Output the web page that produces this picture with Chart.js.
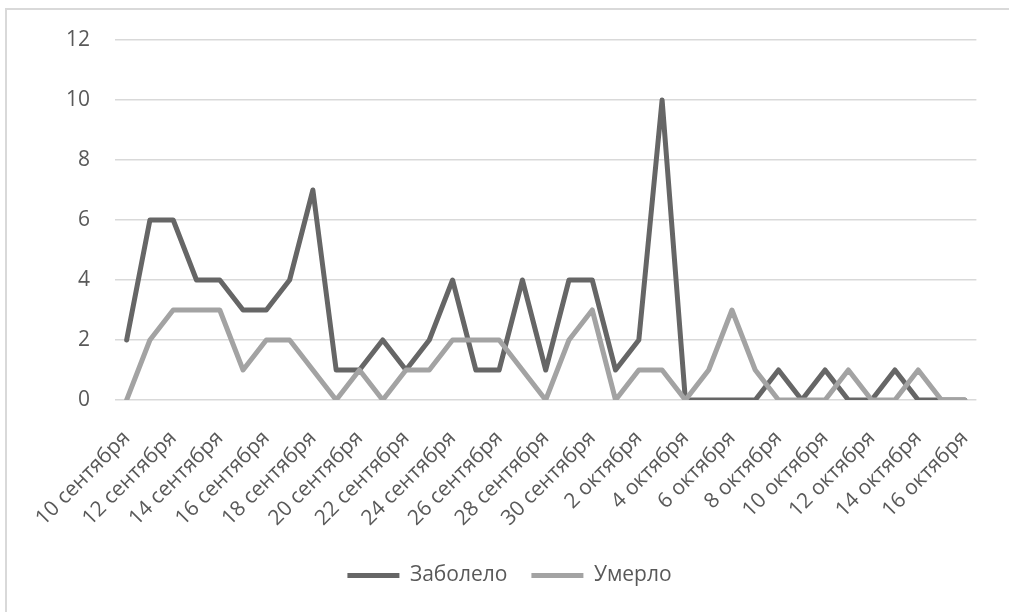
<!DOCTYPE html>
<html>
<head>
<meta charset="utf-8">
<script src="https://cdn.jsdelivr.net/npm/chart.js@4"></script>
<style>
  html, body { margin: 0; padding: 0; background: #ffffff; }
  body { width: 1009px; height: 612px; position: relative; overflow: hidden; }
  #frame { position: absolute; left: 5px; top: 8px; width: 1100px; height: 700px;
           border-top: 2px solid #d9d9d9; border-left: 2px solid #d9d9d9; }
  #wrap { position: absolute; left: 0; top: 0; width: 1009px; height: 612px; }
</style>
</head>
<body>
<div id="frame"></div>
<div id="wrap"><canvas id="c" width="1009" height="612"></canvas></div>
<script>
const days = [
  "10 сентября","11 сентября","12 сентября","13 сентября","14 сентября","15 сентября",
  "16 сентября","17 сентября","18 сентября","19 сентября","20 сентября","21 сентября",
  "22 сентября","23 сентября","24 сентября","25 сентября","26 сентября","27 сентября",
  "28 сентября","29 сентября","30 сентября","1 октября","2 октября","3 октября",
  "4 октября","5 октября","6 октября","7 октября","8 октября","9 октября",
  "10 октября","11 октября","12 октября","13 октября","14 октября","15 октября","16 октября"
];
const zabolelo = [2,6,6,4,4,3,3,4,7,1,1,2,1,2,4,1,1,4,1,4,4,1,2,10,0,0,0,0,1,0,1,0,0,1,0,0,0];
const umerlo   = [0,2,3,3,3,1,2,2,1,0,1,0,1,1,2,2,2,1,0,2,3,0,1,1,0,1,3,1,0,0,0,1,0,0,1,0,0];
const yTicks = [0,2,4,6,8,10,12];
const seriesNames = ["Заболело","Умерло"];

const FONT = "'Open Sans', 'Noto Sans', sans-serif";
const TXT = "#595959";

new Chart(document.getElementById("c"), {
  type: "line",
  data: {
    labels: days,
    datasets: [
      { label: seriesNames[0], data: zabolelo, borderColor: "#666666", backgroundColor: "#666666",
        borderWidth: 5, pointRadius: 0, tension: 0, borderJoinStyle: "round", borderCapStyle: "round", order: 1 },
      { label: seriesNames[1], data: umerlo, borderColor: "#a3a3a3", backgroundColor: "#a3a3a3",
        borderWidth: 5, pointRadius: 0, tension: 0, borderJoinStyle: "round", borderCapStyle: "round", order: 0 }
    ]
  },
  options: {
    responsive: false,
    animation: false,
    events: [],
    layout: { padding: { left: 42, right: 32, top: 40, bottom: 16 } },
    plugins: {
      tooltip: { enabled: false },
      legend: {
        position: "bottom",
        labels: {
          sort: (a, b) => a.datasetIndex - b.datasetIndex,
          usePointStyle: true, pointStyle: "line", pointStyleWidth: 52,
          boxHeight: 5, padding: 24,
          color: TXT, font: { family: FONT, size: 21 }
        }
      }
    },
    scales: {
      x: {
        offset: true,
        grid: { display: false, drawTicks: false },
        border: { display: false },
        ticks: {
          autoSkip: false, minRotation: 45, maxRotation: 45, padding: 26,
          color: TXT, font: { family: FONT, size: 21 },
          callback: function(v, i) { return i % 2 === 0 ? this.getLabelForValue(v) : ""; }
        },
        afterFit: s => { s.height = 141; }
      },
      y: {
        min: 0, max: 12,
        afterBuildTicks: s => { s.ticks = yTicks.map(v => ({ value: v })); },
        grid: { color: "#d9d9d9", lineWidth: 1.5, drawTicks: false },
        border: { display: false },
        ticks: { padding: 25, color: TXT, font: { family: FONT, size: 21 } },
        afterFit: s => { s.width = 73; }
      }
    }
  }
});
</script>
</body>
</html>
